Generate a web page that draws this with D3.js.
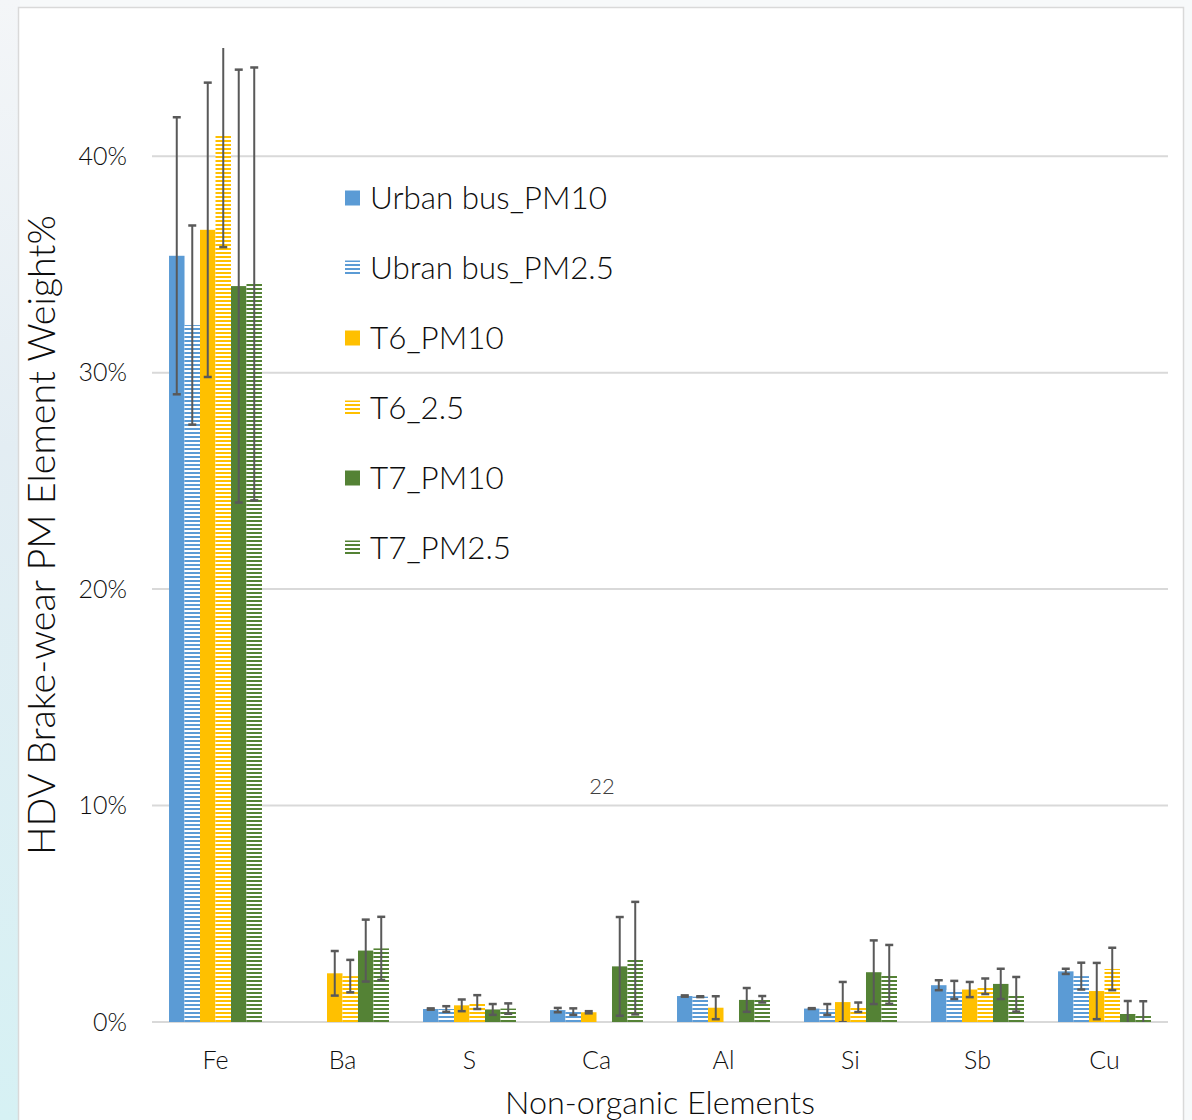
<!DOCTYPE html>
<html><head><meta charset="utf-8">
<script src="https://cdn.jsdelivr.net/npm/d3@7"></script>
<style>html,body{margin:0;padding:0;background:#fff;}svg{display:block;}</style>
</head><body>
<script>
const categories = ["Fe","Ba","S","Ca","Al","Si","Sb","Cu"];
const seriesNames = ["Urban bus_PM10","Ubran bus_PM2.5","T6_PM10","T6_2.5","T7_PM10","T7_PM2.5"];
const seriesColors = ["#5B9BD5","#5B9BD5","#FFC000","#FFC000","#548235","#548235"];
const seriesStriped = [false,true,false,true,false,true];
// values in %
const urbanPM10   = [35.4, 0,    0.60, 0.55, 1.20, 0.62, 1.70, 2.34];
const urbanPM25   = [32.2, 0,    0.60, 0.48, 1.17, 0.58, 1.48, 2.12];
const t6PM10      = [36.6, 2.25, 0.77, 0.45, 0.66, 0.92, 1.50, 1.43];
const t6PM25      = [41.0, 2.12, 0.92, 0,    0,    0.68, 1.65, 2.45];
const t7PM10      = [34.0, 3.30, 0.58, 2.57, 1.02, 2.30, 1.76, 0.37];
const t7PM25      = [34.1, 3.40, 0.62, 2.95, 1.05, 2.20, 1.28, 0.34];
const urbanPM10Err = [6.4, 0,    0.03, 0.10, 0.03, 0.02, 0.23, 0.12];
const urbanPM25Err = [4.6, 0,    0.13, 0.15, 0.02, 0.25, 0.42, 0.62];
const t6PM10Err    = [6.8, 1.03, 0.27, 0.05, 0.53, 0.93, 0.35, 1.30];
const t6PM25Err    = [5.2, 0.75, 0.32, 0,    0,    0.22, 0.36, 0.98];
const t7PM10Err    = [10.0,1.43, 0.25, 2.28, 0.55, 1.47, 0.70, 0.60];
const t7PM25Err    = [10.0,1.46, 0.24, 2.60, 0.15, 1.36, 0.80, 0.62];
const yTicks = [0, 10, 20, 30, 40];
const yTickLabels = ["0%","10%","20%","30%","40%"];
const yTitle = "HDV Brake-wear PM Element Weight%";
const xTitle = "Non-organic Elements";
const annotation = "22";

const values = [urbanPM10, urbanPM25, t6PM10, t6PM25, t7PM10, t7PM25];
const errors = [urbanPM10Err, urbanPM25Err, t6PM10Err, t6PM25Err, t7PM10Err, t7PM25Err];

const W = 1192, H = 1120;
const FONT = "Lato, 'Open Sans', sans-serif";
const FW = 300;
const TXT = "#0d0d0d";
const svg = d3.select("body").append("svg").attr("width", W).attr("height", H);
const defs = svg.append("defs");

// background gradient on the left strip
const lg = defs.append("linearGradient").attr("id","bgLeft").attr("x1",0).attr("y1",0).attr("x2",0).attr("y2",1);
lg.append("stop").attr("offset","0%").attr("stop-color","#f4f6f8");
lg.append("stop").attr("offset","40%").attr("stop-color","#e3edf3");
lg.append("stop").attr("offset","100%").attr("stop-color","#d6f1f4");
svg.append("rect").attr("x",0).attr("y",0).attr("width",W).attr("height",H).attr("fill","#f7f9fa");
svg.append("rect").attr("x",0).attr("y",0).attr("width",20).attr("height",H).attr("fill","url(#bgLeft)");
// chart frame
svg.append("rect").attr("x",18.5).attr("y",7.5).attr("width",1165).attr("height",H)
  .attr("fill","#fff").attr("stroke","#d9d9d9").attr("stroke-width",1.5);

// stripe patterns
seriesColors.forEach((c,i) => {
  if (!seriesStriped[i]) return;
  const p = defs.append("pattern").attr("id","stripe"+i).attr("patternUnits","userSpaceOnUse")
    .attr("width",8).attr("height",4);
  p.append("rect").attr("width",8).attr("height",4).attr("fill","#fff");
  p.append("rect").attr("y",0).attr("width",8).attr("height",2).attr("fill",c);
});
const fillFor = i => seriesStriped[i] ? `url(#stripe${i})` : seriesColors[i];

const plotLeft = 152, plotRight = 1168, plotTop = 48, plotBottom = 1022;
const y = d3.scaleLinear().domain([0, 45]).range([plotBottom, plotTop]);
const x0 = d3.scaleBand().domain(categories).range([plotLeft, plotRight]).padding(0);
const bw = x0.bandwidth();
const x1 = d3.scaleBand().domain(d3.range(seriesNames.length)).range([bw*0.134, bw*0.866]).padding(0);

// gridlines
svg.append("g").selectAll("line").data(yTicks).join("line")
  .attr("x1",plotLeft).attr("x2",plotRight)
  .attr("y1",d=>y(d)).attr("y2",d=>y(d))
  .attr("stroke","#d9d9d9").attr("stroke-width",2);

// y tick labels
svg.append("g").selectAll("text").data(yTicks).join("text")
  .attr("x",127).attr("y",d=>y(d)).attr("dy","0.35em")
  .attr("text-anchor","end").attr("font-family",FONT).attr("font-weight",FW).attr("font-size",25)
  .attr("fill",TXT).text((d,i)=>yTickLabels[i]);

// x category labels
svg.append("g").selectAll("text").data(categories).join("text")
  .attr("x",d=>x0(d)+bw/2).attr("y",1060).attr("dy","0.35em")
  .attr("text-anchor","middle").attr("font-family",FONT).attr("font-weight",FW).attr("font-size",25)
  .attr("fill",TXT).text(d=>d);

// bars
const clip = defs.append("clipPath").attr("id","plotClip");
clip.append("rect").attr("x",plotLeft).attr("y",plotTop).attr("width",plotRight-plotLeft).attr("height",plotBottom-plotTop);

const barsG = svg.append("g");
seriesNames.forEach((s,i) => {
  barsG.append("g").selectAll("rect").data(categories).join("rect")
    .attr("x",(c)=>x0(c)+x1(i)).attr("width",x1.bandwidth())
    .attr("y",(c,j)=>y(values[i][j])).attr("height",(c,j)=>plotBottom - y(values[i][j]))
    .attr("fill",fillFor(i));
});

// error bars
const errG = svg.append("g").attr("clip-path","url(#plotClip)");
seriesNames.forEach((s,i) => {
  categories.forEach((c,j) => {
    const v = values[i][j], e = errors[i][j];
    if (v === 0 || e === 0) return;
    const cx = x0(c) + x1(i) + x1.bandwidth()/2;
    const yt = y(v+e), yb = y(v-e);
    const g = errG.append("g").attr("stroke","#595959");
    g.append("line").attr("x1",cx).attr("x2",cx).attr("y1",yt).attr("y2",yb).attr("stroke-width",2);
    g.append("line").attr("x1",cx-4).attr("x2",cx+4).attr("y1",yt).attr("y2",yt).attr("stroke-width",2.5);
    g.append("line").attr("x1",cx-4).attr("x2",cx+4).attr("y1",yb).attr("y2",yb).attr("stroke-width",2.5);
  });
});

// fit text helper
function fit(sel, target) {
  const len = sel.node().getComputedTextLength();
  const fs = parseFloat(sel.attr("font-size"));
  sel.attr("font-size", fs * target / len);
  return fs * target / len;
}

// y title
const yt = svg.append("text").attr("transform","translate(42,535) rotate(-90)")
  .attr("text-anchor","middle").attr("dy","0.35em").attr("font-family",FONT).attr("font-weight",FW).attr("font-size",30)
  .attr("fill",TXT).text(yTitle);
fit(yt, 640);

// x title
const xt = svg.append("text").attr("x",660).attr("y",1103).attr("dy","0.35em")
  .attr("text-anchor","middle").attr("font-family",FONT).attr("font-weight",FW).attr("font-size",30)
  .attr("fill",TXT).text(xTitle);
fit(xt, 310);

// annotation
svg.append("text").attr("x",602).attr("y",786).attr("dy","0.35em").attr("text-anchor","middle")
  .attr("font-family",FONT).attr("font-weight",FW).attr("font-size",22).attr("fill","#404040").text(annotation);

// legend
const legRows = [198,268,338,408,478,548];
const leg = svg.append("g");
const t0 = leg.append("text").attr("x",370).attr("y",legRows[0]).attr("dy","0.35em")
  .attr("font-family",FONT).attr("font-weight",FW).attr("font-size",30).attr("fill",TXT).text(seriesNames[0]);
const legFs = fit(t0, 237);
seriesNames.forEach((s,i) => {
  const ry = legRows[i];
  leg.append("rect").attr("x",345).attr("y",ry-7.5).attr("width",15).attr("height",15).attr("fill",fillFor(i));
  if (i>0) leg.append("text").attr("x",370).attr("y",ry).attr("dy","0.35em")
    .attr("font-family",FONT).attr("font-weight",FW).attr("font-size",legFs).attr("fill",TXT).text(s);
});
</script>
</body></html>
